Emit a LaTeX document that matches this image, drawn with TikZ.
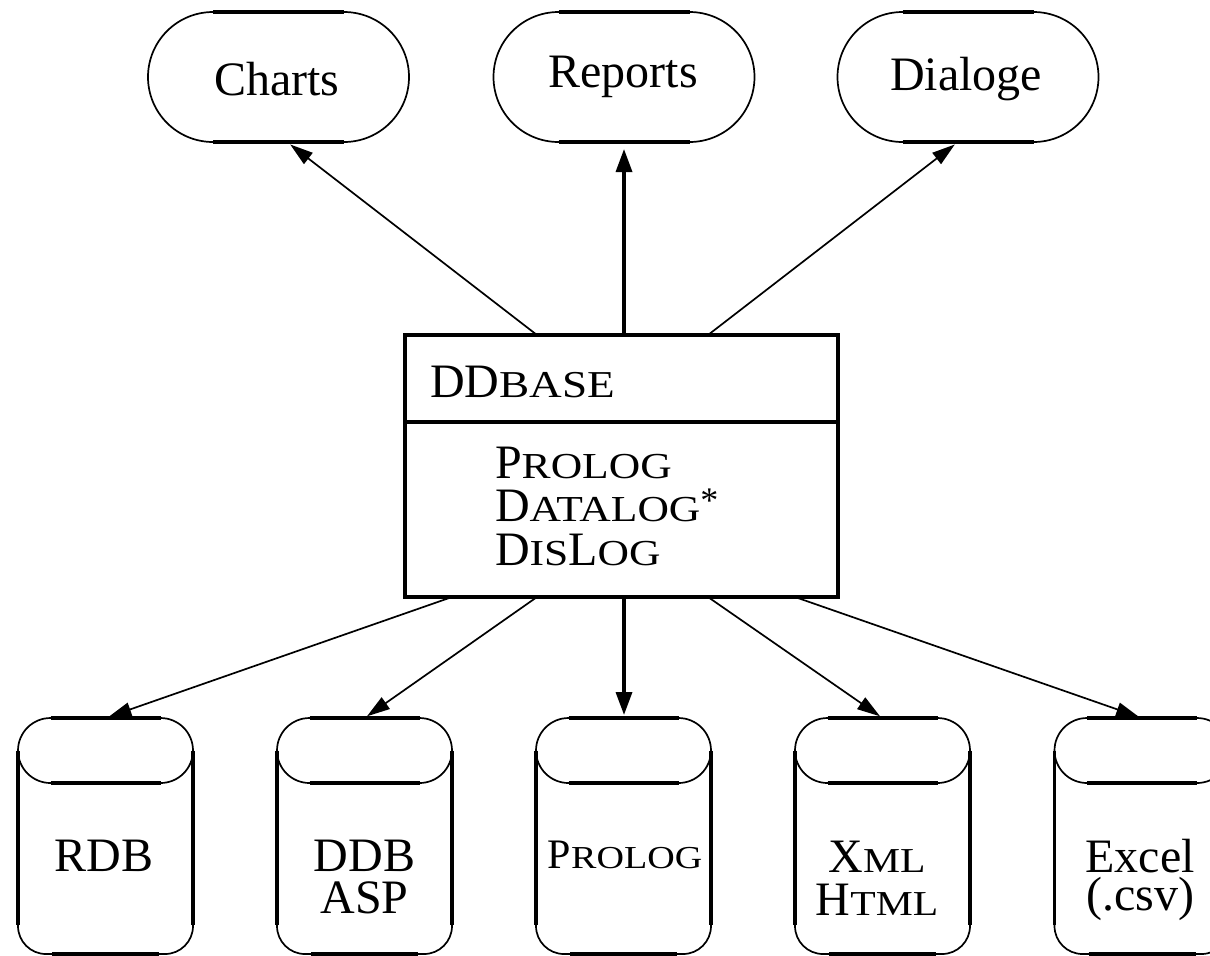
\documentclass[tikz,border=0pt]{standalone}
\usepackage{fontspec}
\setmainfont{Liberation Serif}
\newfontfamily\scface[FakeStretch=1.19]{Liberation Serif}
\usetikzlibrary{arrows.meta,calc,shapes.misc}

% small capitals built from scaled, slightly widened capitals
\newcommand\SC[2][18.3pt]{{\scface\fontsize{#1}{#1}\selectfont #2}}
% stacked lines: left aligned / centred, first baseline is the box baseline
\newcommand\llines[2]{\vtop{\baselineskip=#1\relax\lineskiplimit=-100pt\halign{##\hfil\cr#2\crcr}}}
\newcommand\clines[2]{\vtop{\baselineskip=#1\relax\lineskiplimit=-100pt\halign{\hfil##\hfil\cr#2\crcr}}}
\newcommand\raisedstar{{\fontsize{18pt}{18pt}\selectfont\raisebox{4.5pt}{*}}}

\begin{document}
\begin{tikzpicture}[x=0.5pt,y=-0.5pt,
  every node/.style={inner sep=0pt,outer sep=0pt},
  big/.style={font=\fontsize{24pt}{24pt}\selectfont},
  arcline/.style={line width=0.85pt},
  edgeline/.style={line width=1.6pt},
  wallline/.style={line width=1.7pt},
  stadium/.style={rounded rectangle,draw,arcline,minimum width=130.5pt,minimum height=65pt},
  canbody/.style={rectangle,minimum width=87.5pt,minimum height=118pt},
  canlid/.style={rounded rectangle,draw,arcline,minimum width=87.5pt,minimum height=32.5pt},
  framebox/.style={rectangle,draw,line width=1.6pt,minimum width=216.5pt,minimum height=131pt},
  thinarrow/.style={line width=0.85pt,-{Triangle[length=11.5pt,width=7pt]}},
  thickarrow/.style={line width=1.7pt,-{Triangle[length=11.5pt,width=8pt]}},
]
\useasboundingbox (0,0) rectangle (1210,955);

% ---- output components (top row)
\node[stadium] (charts)  at (278.5,77) {};
\node[stadium] (reports) at (624,77)   {};
\node[stadium] (dialoge) at (968,77)   {};
\foreach \s in {charts,reports,dialoge}{
  \draw[edgeline] ([xshift=-32.75pt]\s.north) -- ([xshift=32.75pt]\s.north);
  \draw[edgeline] ([xshift=-32.75pt]\s.south) -- ([xshift=32.75pt]\s.south);
}
\node[big,anchor=base] (chartslbl)  at (277,95) {Charts};
\node[big,anchor=base] (reportslbl) at (623,87) {Reports};
\node[big,anchor=base] (dialogelbl) at (966,90) {Dialoge};

% ---- central system box
\node[framebox] (ddb) at (621.5,466) {};
\draw[line width=1.6pt] ($(ddb.north west)+(0,87)$) -- ($(ddb.north east)+(0,87)$);
\node[big,anchor=base west] (ddbtitle) at (430,397) {DD\SC[19pt]{BASE}};
\node[big,anchor=base west] (ddblangs) at (495,478)
  {\llines{21.75pt}{P\SC{ROLOG}\cr D\SC{ATALOG}\raisedstar\cr D\SC{IS}L\SC{OG}}};

% ---- data sources (bottom row, drawn as cans)
\foreach \n/\x in {rdb/105.5,ddbasp/364.5,prologdb/623.5,xmldb/882.5,exceldb/1142}{
  \node[canbody] (\n) at (\x,836) {};
  \node[canlid,anchor=north] (\n lid) at (\n.north) {};
  \draw[edgeline] ([xshift=-27.5pt]\n lid.north) -- ([xshift=27.5pt]\n lid.north);
  \draw[edgeline] ([xshift=-27.5pt]\n lid.south) -- ([xshift=27.5pt]\n lid.south);
  \draw[wallline] (\n lid.west) -- ($(\n.south west)+(0,-29)$);
  \draw[wallline] (\n lid.east) -- ($(\n.south east)+(0,-29)$);
  \draw[arcline,rounded corners=14pt] ($(\n.south west)+(0,-29)$) -- (\n.south west)
        -- (\n.south east) -- ($(\n.south east)+(0,-29)$);
  \draw[edgeline] ([xshift=17pt]\n.south west) -- ([xshift=-17pt]\n.south east);
}
\node[big,anchor=base] (rdblbl)    at (104,871)   {RDB};
\node[big,anchor=base] (ddbasplbl) at (364.5,871) {\clines{21pt}{DDB\cr ASP}};
\node[font=\fontsize{21pt}{21pt}\selectfont,anchor=base] (prologlbl) at (625,868) {P\SC[16pt]{ROLOG}};
\node[big,anchor=base] (xmllbl)    at (877,872)   {\clines{21.5pt}{X\SC[17.5pt]{ML}\cr H\SC[17.5pt]{TML}}};
\node[big,anchor=base] (excellbl)  at (1140,872)  {\clines{19pt}{Excel\cr(.csv)}};

% ---- connectors
\coordinate (topA) at ($(ddb.north west)+(132,0)$);
\coordinate (topB) at ($(ddb.north west)+(219,0)$);
\coordinate (topC) at ($(ddb.north west)+(303,0)$);
\coordinate (botA) at ($(ddb.south west)+(47,0)$);
\coordinate (botB) at ($(ddb.south west)+(132,0)$);
\coordinate (botC) at ($(ddb.south west)+(219,0)$);
\coordinate (botD) at ($(ddb.south west)+(303,0)$);
\coordinate (botE) at ($(ddb.south west)+(390,0)$);

\draw[thinarrow,shorten >=2pt]    (topA) -- ([xshift=4.25pt]charts.south);
\draw[thickarrow,shorten >=3.5pt] (topB) -- (topB |- reports.south);
\draw[thinarrow,shorten >=2pt]    (topC) -- ([xshift=-5pt]dialoge.south);

\draw[thinarrow,shorten >=1.5pt]  (botA) -- (rdb.north);
\draw[thinarrow,shorten >=1.5pt]  (botB) -- (ddbasp.north);
\draw[thickarrow,shorten >=1.5pt] (botC) -- (botC |- prologdb.north);
\draw[thinarrow,shorten >=1.5pt]  (botD) -- (xmldb.north);
\draw[thinarrow,shorten >=1.5pt]  (botE) -- (exceldb.north);
\end{tikzpicture}
\end{document}
